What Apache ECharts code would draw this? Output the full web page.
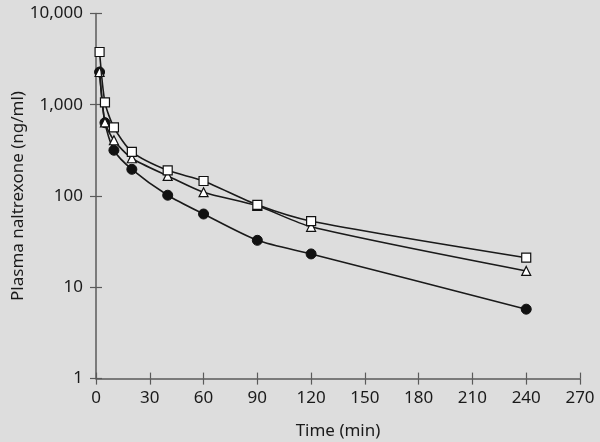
<!DOCTYPE html>
<html>
<head>
<meta charset="utf-8">
<script src="https://cdn.jsdelivr.net/npm/echarts@6/dist/echarts.min.js"></script>
<style>html,body{margin:0;padding:0;background:#dddddd;}#c{width:600px;height:442px;}</style>
</head>
<body>
<div id="c"></div>
<script>
const times = [2, 5, 10, 20, 40, 60, 90, 120, 240];
const squares = [3780, 1060, 565, 305, 191, 146, 80, 53, 21.1];
const triangles = [2280, 640, 408, 259, 166, 110, 78, 46, 15.1];
const circles = [2280, 635, 317, 196, 102, 63.5, 32.7, 23.2, 5.76];
const xTicks = [0, 30, 60, 90, 120, 150, 180, 210, 240, 270];
const yTickLabels = {1: '1', 10: '10', 100: '100', 1000: '1,000', 10000: '10,000'};

const FONT = 'Noto Sans';
const axisCol = '#5a5a5a';
const textCol = '#1a1a1a';

function pts(vals) { return times.map((t, i) => [t, vals[i]]); }

const chart = echarts.init(document.getElementById('c'), null, {renderer: 'canvas'});
const grid = {left: 96, right: 20, top: 13.4, bottom: 63.4, containLabel: false, outerBoundsMode: 'none'};
const xBase = {type: 'value', min: 0, max: 270, interval: 30, gridIndex: 0, position: 'bottom'};
const yBase = {type: 'log', min: 1, max: 10000, logBase: 10, gridIndex: 0, position: 'left'};
chart.setOption({
  backgroundColor: '#dddddd',
  animation: false,
  grid: grid,
  xAxis: [
    Object.assign({}, xBase, {
      name: 'Time (min)', nameLocation: 'middle', nameGap: 44, nameMoveOverlap: false,
      nameTextStyle: {fontFamily: FONT, fontSize: 17, color: textCol},
      axisLine: {lineStyle: {color: axisCol, width: 1.5}},
      axisTick: {inside: true, length: 6, lineStyle: {color: axisCol, width: 1.2}},
      axisLabel: {fontFamily: FONT, fontSize: 17, color: textCol, margin: 11,
        formatter: v => (xTicks.indexOf(v) >= 0 ? String(v) : '')},
      splitLine: {show: false}
    }),
    Object.assign({}, xBase, {
      axisLine: {show: false},
      axisTick: {inside: false, length: 6, lineStyle: {color: axisCol, width: 1.2}},
      axisLabel: {show: false},
      splitLine: {show: false}
    })
  ],
  yAxis: [
    Object.assign({}, yBase, {
      name: 'Plasma naltrexone (ng/ml)', nameLocation: 'middle', nameGap: 69, nameMoveOverlap: false,
      nameTextStyle: {fontFamily: FONT, fontSize: 17, color: textCol},
      axisLine: {lineStyle: {color: axisCol, width: 1.5}},
      axisTick: {inside: false, length: 6, lineStyle: {color: axisCol, width: 1.2}},
      axisLabel: {fontFamily: FONT, fontSize: 17, color: textCol, margin: 13,
        formatter: v => yTickLabels[Math.round(v)] || ''},
      splitLine: {show: false}
    }),
    Object.assign({}, yBase, {
      axisLine: {show: false},
      axisTick: {inside: true, length: 6, lineStyle: {color: axisCol, width: 1.2}},
      axisLabel: {show: false},
      splitLine: {show: false}
    })
  ],
  series: [
    {type: 'line', data: pts(circles), smooth: 0.25, symbol: 'circle', symbolSize: 10,
      lineStyle: {color: '#1a1a1a', width: 1.6},
      itemStyle: {color: '#111', borderColor: '#111', borderWidth: 1}, z: 2},
    {type: 'line', data: pts(triangles), smooth: 0.25, symbol: 'triangle', symbolSize: 9,
      lineStyle: {color: '#1a1a1a', width: 1.6},
      itemStyle: {color: '#ffffff', borderColor: '#111', borderWidth: 1.2}, z: 3},
    {type: 'line', data: pts(squares), smooth: 0.25, symbol: 'rect', symbolSize: 9,
      lineStyle: {color: '#1a1a1a', width: 1.6},
      itemStyle: {color: '#ffffff', borderColor: '#111', borderWidth: 1.2}, z: 4}
  ]
});
</script>
</body>
</html>
